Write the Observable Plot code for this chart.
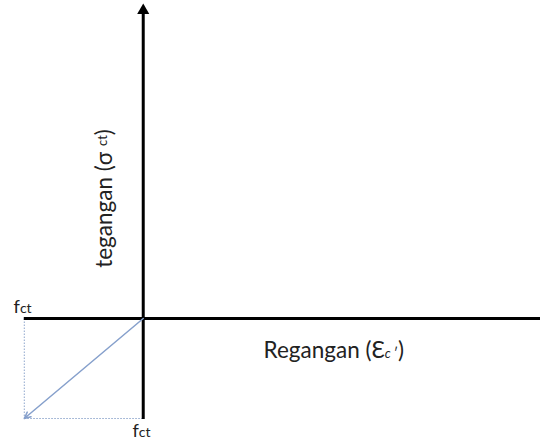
<!DOCTYPE html>
<html>
<head>
<meta charset="utf-8">
<script src="https://cdn.jsdelivr.net/npm/d3@7"></script>
<script src="https://cdn.jsdelivr.net/npm/@observablehq/plot@0.6"></script>
<style>
  html, body { margin: 0; padding: 0; background: #fff; }
  svg { display: block; }
</style>
</head>
<body>
<div id="chart"></div>
<script>
// Domain (in units of f_ct) of the diagram
const strainDomain = [-1.2, 3.34];
const stressDomain = [-1.23, 3.18];
const fct = 1;
// axes extents
const xAxisExtent = [-1, 3.34];
const yAxisExtent = [-1.01, 3.08];
// tension branch: origin to (-fct, -fct)
const tensionLine = [{x1: 0, y1: 0, x2: -fct, y2: -fct}];
// projection guide lines
const guides = [
  {x1: -fct, y1: 0, x2: -fct, y2: -fct},
  {x1: -fct, y1: -fct, x2: 0, y2: -fct}
];
// labels (positions in data units)
const fctLabels = [
  {x: -1.09, y: 0.06, text: "fct"},
  {x: -0.09, y: -1.185, text: "fct"}
];
const xTitle = [{x: 1.012, y: -0.39, text: "Regangan (Ɛc ʹ)"}];
const yTitle = [{x: -0.32, y: 1.2, text: "tegangan (σ ct)"}];

const chart = Plot.plot({
  width: 540,
  height: 441,
  marginTop: 0, marginBottom: 0, marginLeft: 0, marginRight: 0,
  x: {domain: strainDomain, axis: null},
  y: {domain: stressDomain, axis: null},
  style: {fontFamily: "Lato, 'Open Sans', sans-serif", background: "#fff"},
  marks: [
    Plot.link(guides, {x1: "x1", y1: "y1", x2: "x2", y2: "y2", stroke: "#8ea6cc", strokeWidth: 1, strokeDasharray: "1.5,1.5"}),
    Plot.ruleY([0], {x1: xAxisExtent[0], x2: xAxisExtent[1], stroke: "#000", strokeWidth: 3}),
    Plot.ruleX([0], {y1: yAxisExtent[0], y2: yAxisExtent[1], stroke: "#000", strokeWidth: 3}),
    Plot.dot([{x: 0, y: yAxisExtent[1]}], {x: "x", y: "y", symbol: "triangle", r: 4.5, fill: "#000", stroke: null}),
    Plot.arrow(tensionLine, {x1: "x1", y1: "y1", x2: "x2", y2: "y2", stroke: "#86a0cc", strokeWidth: 1.5, headLength: 7, headAngle: 50, bend: 0}),
    Plot.text(fctLabels, {x: "x", y: "y", text: "text", textAnchor: "start", lineAnchor: "bottom", fontSize: 18, fill: "#222"}),
    Plot.text(xTitle, {x: "x", y: "y", text: "text", textAnchor: "start", lineAnchor: "bottom", fontSize: 22.5, fill: "#222"}),
    Plot.text(yTitle, {x: "x", y: "y", text: "text", rotate: -90, textAnchor: "middle", lineAnchor: "middle", fontSize: 22.5, fill: "#222"})
  ]
});

// rich-text formatting of subscripts
d3.select(chart).selectAll("text").each(function() {
  const el = d3.select(this);
  const t = el.text();
  if (t === "fct") {
    el.text("");
    el.append("tspan").text("f");
    el.append("tspan").attr("font-size", 14).text("ct");
  } else if (t === "Regangan (Ɛc ʹ)") {
    el.text("");
    el.append("tspan").text("Regangan (");
    el.append("tspan").text("Ɛ");
    el.append("tspan").attr("font-size", 13).attr("font-style", "italic").text("c ");
    el.append("tspan").attr("font-size", 13).text("ʹ");
    el.append("tspan").text(")");
  } else if (t === "tegangan (σ ct)") {
    el.text("");
    el.append("tspan").text("tegangan (σ ");
    el.append("tspan").attr("font-size", 13).attr("dy", -5).text("ct");
    el.append("tspan").attr("dy", 5).text(")");
  }
});

document.getElementById("chart").appendChild(chart);
</script>
</body>
</html>
